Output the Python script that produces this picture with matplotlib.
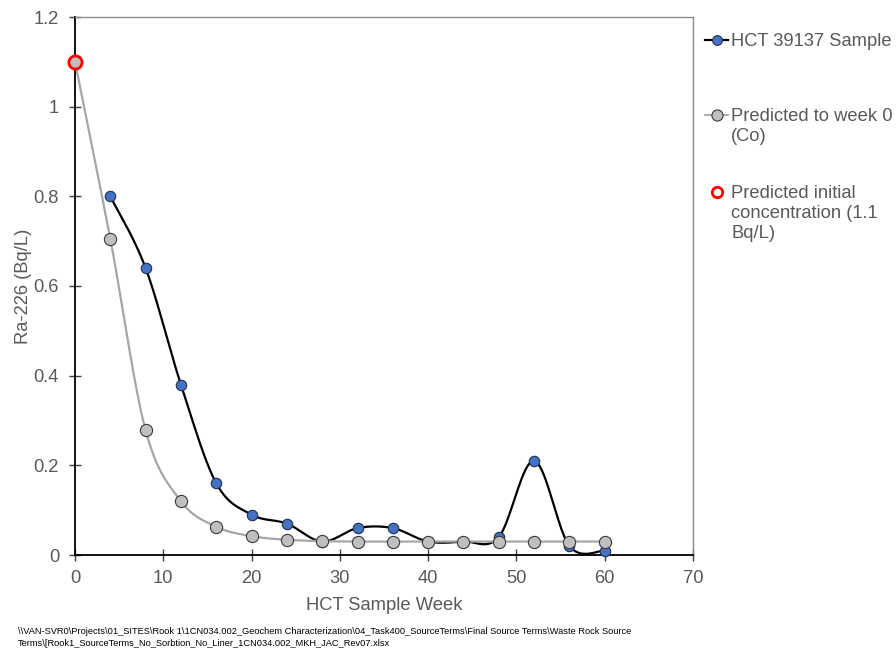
import numpy as np
import matplotlib
matplotlib.use("Agg")
import matplotlib.pyplot as plt
from matplotlib.lines import Line2D

plt.rcParams['font.family'] = ['Liberation Sans', 'DejaVu Sans']

# HCT sample results (Ra-226, Bq/L)
sample_weeks = [4, 8, 12, 16, 20, 24, 28, 32, 36, 40, 44, 48, 52, 56, 60]
sample_ra226 = [0.80, 0.64, 0.38, 0.16, 0.09, 0.07, 0.03, 0.06, 0.06, 0.03, 0.03, 0.04, 0.21, 0.02, 0.01]

# Predicted decay back to week 0
pred_weeks = [0, 4, 8, 12, 16, 20, 24, 28, 32, 36, 40, 44, 48, 52, 56, 60]
pred_ra226 = [1.10, 0.705, 0.278, 0.12, 0.063, 0.042, 0.034, 0.031, 0.030, 0.030, 0.030, 0.030, 0.030, 0.030, 0.030, 0.030]

# Predicted initial concentration
init_week = [0]
init_ra226 = [1.1]

series_labels = ["HCT 39137 Sample", "Predicted to week 0\n(Co)", "Predicted initial\nconcentration (1.1\nBq/L)"]
x_ticks = [0, 10, 20, 30, 40, 50, 60, 70]
y_ticks = [0, 0.2, 0.4, 0.6, 0.8, 1.0, 1.2]
y_tick_labels = ["0", "0.2", "0.4", "0.6", "0.8", "1", "1.2"]
footer = ("\\\\VAN-SVR0\\Projects\\01_SITES\\Rook 1\\1CN034.002_Geochem Characterization\\04_Task400_SourceTerms\\Final Source Terms\\Waste Rock Source\n"
          "Terms\\[Rook1_SourceTerms_No_Sorbtion_No_Liner_1CN034.002_MKH_JAC_Rev07.xlsx")


def smooth(xs, ys, n=40):
    """Cardinal (Catmull-Rom style) Bezier smoothing through the points."""
    x = np.asarray(xs, float)
    y = np.asarray(ys, float)
    px = np.concatenate([[x[0]], x, [x[-1]]])
    py = np.concatenate([[y[0]], y, [y[-1]]])
    ox, oy = [], []
    t = np.linspace(0, 1, n)
    for i in range(1, len(px) - 2):
        p0 = np.array([px[i], py[i]])
        p3 = np.array([px[i + 1], py[i + 1]])
        p1 = p0 + (np.array([px[i + 1], py[i + 1]]) - np.array([px[i - 1], py[i - 1]])) / 6
        p2 = p3 - (np.array([px[i + 2], py[i + 2]]) - np.array([px[i], py[i]])) / 6
        b = ((1 - t) ** 3)[:, None] * p0 + (3 * (1 - t) ** 2 * t)[:, None] * p1 \
            + (3 * (1 - t) * t ** 2)[:, None] * p2 + (t ** 3)[:, None] * p3
        ox.extend(b[:, 0]); oy.extend(b[:, 1])
    return np.array(ox), np.array(oy)


fig = plt.figure(figsize=(8.96, 6.49), dpi=100)
ax = fig.add_axes([75 / 896, 1 - 555 / 649, (693 - 75) / 896, (555 - 17) / 649])

blue = "#4472C4"
grey_line = "#A6A6A6"
txt = "#595959"
fs = 13.2

sx, sy = smooth(sample_weeks, sample_ra226)
ax.plot(sx, sy, color="black", lw=1.6, zorder=3, clip_on=False)
ax.plot(sample_weeks, sample_ra226, ls="none", marker="o", ms=7.5,
        mfc=blue, mec="#1f2f4f", mew=0.8, zorder=4, clip_on=False)

px_, py_ = smooth(pred_weeks, pred_ra226)
ax.plot(px_, py_, color=grey_line, lw=1.6, zorder=5, clip_on=False)
ax.plot(pred_weeks, pred_ra226, ls="none", marker="o", ms=8.8,
        mfc="#BFBFBF", mec="#3a3a3a", mew=0.8, zorder=6, clip_on=False)

ax.plot(init_week, init_ra226, ls="none", marker="o", ms=9.5,
        mfc="none", mec="red", mew=2.0, zorder=7, clip_on=False)

ax.set_xlim(0, 70)
ax.set_ylim(0, 1.2)
ax.set_xticks(x_ticks)
ax.set_yticks(y_ticks)
ax.set_yticklabels(y_tick_labels)
ax.tick_params(axis="both", direction="inout", length=9, width=1.0, color="#404040",
               labelsize=fs, labelcolor=txt)
ax.tick_params(axis="x", pad=6.5)
ax.tick_params(axis="y", pad=7)

for s in ["left", "bottom"]:
    ax.spines[s].set_color("black")
    ax.spines[s].set_linewidth(1.3)
for s in ["top", "right"]:
    ax.spines[s].set_color("#8c8c8c")
    ax.spines[s].set_linewidth(1.0)

ax.set_xlabel("HCT Sample Week", fontsize=fs, color=txt, labelpad=7)
ax.set_ylabel("Ra-226 (Bq/L)", fontsize=fs, color=txt, labelpad=1.5)

# Legend outside the plot area
W, H = 896, 649


def fx(p):
    return p / W


def fy(p):
    return 1 - p / H


entries = [
    (40, dict(color="black", lw=1.6), dict(mfc=blue, mec="#1f2f4f", ms=7, mew=0.8)),
    (115, dict(color=grey_line, lw=1.3), dict(mfc="#BFBFBF", mec="#3a3a3a", ms=8, mew=0.8)),
    (192, None, dict(mfc="none", mec="red", ms=7.5, mew=2.0)),
]
for (ypix, line_style, marker_style), label in zip(entries, series_labels):
    if line_style is not None:
        fig.add_artist(Line2D([fx(705), fx(728)], [fy(ypix), fy(ypix)], **line_style))
    fig.add_artist(Line2D([fx(716.5)], [fy(ypix)], ls="none", marker="o", **marker_style))
    fig.text(fx(731), fy(ypix - 7), label, fontsize=fs, color=txt,
             va="top", ha="left", linespacing=1.22)

fig.text(fx(18), fy(627), footer, fontsize=6.7, color="black", va="top", ha="left",
         linespacing=1.45)

fig.savefig("out.png", dpi=100)
